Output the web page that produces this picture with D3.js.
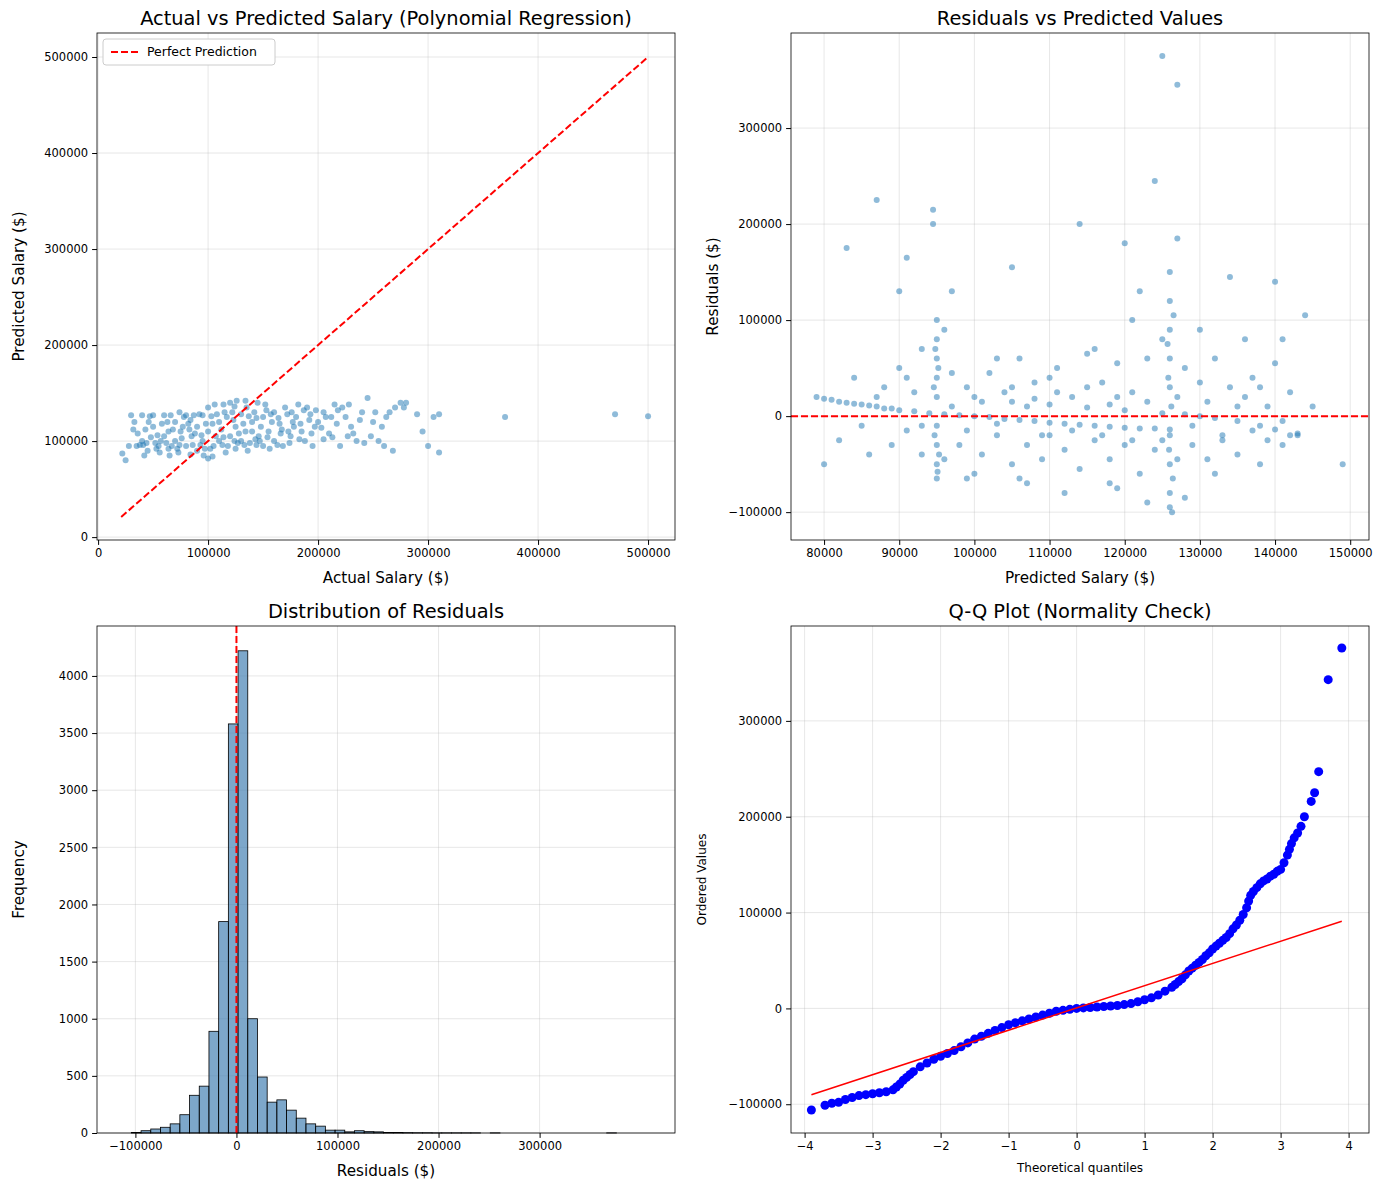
<!DOCTYPE html>
<html><head><meta charset="utf-8">
<script src="https://cdn.jsdelivr.net/npm/d3@7"></script>
<style>body{margin:0;background:#fff}text{font-family:"DejaVu Sans",sans-serif}</style>
</head><body><svg id="fig" width="1387" height="1190"></svg>
<script>
// actual vs predicted, thousands of $
var avp = [[22,87],[25,80],[30,127],[35,95],[40,100],[40,127],[45,90],[50,115],[50,127],[55,95],[60,105],[60,127],[65,85],[70,100],[70,120],[75,110],[80,95],[80,127],[85,105],[90,90],[90,115],[95,100],[95,127],[100,82],[100,110],[100,135],[105,95],[110,120],[110,100],[115,130],[120,105],[120,140],[125,115],[125,92],[130,128],[130,100],[135,135],[140,110],[140,120],[145,140],[150,95],[150,125],[155,110],[160,130],[160,100],[165,118],[170,135],[175,105],[180,125],[185,110],[190,135],[195,95],[200,120],[205,130],[210,108],[215,138],[220,95],[225,125],[230,115],[235,100],[240,130],[245,145],[250,120],[255,100],[260,95],[265,130],[270,135],[280,140],[290,128],[300,95],[305,125],[310,128],[310,88],[370,125],[470,128],[500,126],
[62,98],[68,112],[72,92],[78,125],[82,118],[88,108],[92,128],[98,118],[102,92],[108,128],[112,112],[118,95],[122,130],[128,108],[132,118],[138,98],[142,130],[148,115],[152,138],[158,120],[168,95],[172,128],[178,115],[182,138],[188,100],[192,122],[198,132],[205,102],[212,125],[218,132],[228,138],[238,122],[248,105],[258,115],[275,140],[36,108],[46,120],[56,88],[66,127],[76,103],[86,96],[96,85],[106,138],[116,88],[126,142],[136,90],[146,105],[156,92],[166,108],[176,130],
[32,112],[38,96],[42,85],[48,104],[52,98],[58,118],[64,92],[74,96],[84,122],[94,106],[104,118],[114,104],[124,100],[134,110],[144,96],[154,104],[164,124],[174,98],[184,118],[194,108],[104,84],[114,138],[124,136],[134,142],[144,124],[84,86],[74,130],[64,110],[54,106],[44,98],[28,95],[33,120],[43,112],[53,92],[63,120],[73,88],[83,112],[93,96],[103,126],[113,96],[123,122],[133,96],[143,102],[153,132],[163,96],[173,110],[183,102],[193,128],[203,114],[213,104],[222,135],[232,108],[242,98],[252,130],[262,125],[268,90],[278,135],[295,110],
[41,96],[47,126],[57,100],[67,95],[77,115],[87,127],[97,92],[107,105],[117,125],[127,98],[137,126],[147,100],[157,128],[167,112],[177,120],[187,132],[197,115],[207,125],[217,118],[227,105]];
// residuals vs predicted, thousands of $
var rvp = [[79,20],[80,18],[81,17],[82,15],[83,14],[84,13],[85,12],[86,11],[87,10],[88,8],[89,8],[90,6],[92,5],[94,3],[96,2],[98,1],[100,0],[102,-1],[104,-3],[106,-4],[108,-5],[110,-7],[112,-8],[114,-9],[116,-10],[118,-11],[120,-12],[122,-13],[124,-13],[126,-14],[105,15],[110,12],[115,9],[120,6],[125,3],[130,0],[135,-5],[138,-10],[140,-14],[143,-18],[100,20],[108,18],[118,12],[128,2],[132,-2],
[95,100],[95,80],[95,60],[95,40],[95,20],[95,-10],[95,-30],[95,-50],[95,-65],[94.5,200],[94.5,215],[94.6,30],[94.7,-20],[95.2,50],[95.3,-40],[94.8,70],[95.1,-58],
[126,150],[126,120],[126,90],[126,60],[126,30],[126,-20],[126,-50],[126,-80],[126,-95],[126.3,-100],[125.8,40],[126.2,10],[125.9,-35],[126.4,-65],[125.7,75],[126.5,105],
[80,-50],[83,175],[87,225],[90,130],[91,165],[93,-40],[97,130],[100,-60],[103,60],[105,155],[107,-70],[110,40],[112,-80],[114,200],[118,-70],[120,180],[121,100],[123,-90],[124,245],[125,375],[127,345],[127,185],[130,90],[132,-60],[134,145],[136,80],[138,-50],[140,140],[141,80],[144,105],[149,-50],
[82,-25],[84,40],[86,-40],[88,30],[89,-30],[90,50],[91,-15],[92,25],[93,70],[96,-45],[97,45],[98,-30],[99,30],[101,-40],[102,45],[103,-20],[104,25],[105,-50],[106,60],[107,-30],[108,35],[109,-45],[110,-20],[111,50],[112,-35],[113,20],[114,-55],[115,65],[116,-25],[117,35],[118,-45],[119,55],[120,-30],[121,25],[122,-60],[123,60],[124,-35],[125,80],[127,-45],[128,50],[129,-30],[130,35],[131,-45],[132,60],[133,-20],[134,30],[135,-40],[136,20],[137,40],[138,30],[139,-25],[140,55],[141,-30],[142,25],[143,-20],[145,10],[96,90],[99,-65],[106,-65],[116,70],[119,-75],[128,-85],[122,130],
[85,-10],[87,20],[91,40],[93,-10],[97,10],[99,-15],[101,15],[103,-8],[105,30],[107,10],[109,-20],[111,25],[113,-15],[115,30],[117,-20],[119,20],[121,-25],[123,15],[125,-25],[127,20],[129,-10],[131,15],[133,-25],[135,10],[137,-15],[139,10],[141,-5],[142,-20]];
// histogram of residuals
var binStart = -104000, binWidth = 9600;
var binCounts = [5,20,35,50,80,160,330,410,890,1850,3580,4220,1000,490,270,290,200,130,80,60,25,25,10,20,12,10,5,4,3,2,2,1,1,1,1,1,0,1,0,0,0,0,0,0,0,0,0,0,0,1];
// Q-Q: theoretical quantile, ordered value (thousands)
var qq = [[-3.9,-106],[-3.7,-101],[-3.6,-99],[-3.5,-98],[-3.4,-95],[-3.3,-93],[-3.2,-91],[-3.1,-90],[-3.0,-89],[-2.9,-88],[-2.8,-87],[-2.7,-85],[-2.65,-82],[-2.6,-79],[-2.55,-75],[-2.5,-72],[-2.45,-69],[-2.4,-66],[-2.3,-61],[-2.2,-57],[-2.1,-53],[-2.0,-50],[-1.9,-47],[-1.8,-44],[-1.7,-40],[-1.6,-36],[-1.5,-32],[-1.4,-29],[-1.3,-26],[-1.2,-23],[-1.1,-20],[-1.0,-17],[-0.9,-15],[-0.8,-13],[-0.7,-11],[-0.6,-9],[-0.5,-7],[-0.4,-5],[-0.3,-3],[-0.2,-2],[-0.1,-1],[0,0],[0.1,0.5],[0.2,1],[0.3,1.5],[0.4,2],[0.5,2.5],[0.6,3],[0.7,4],[0.8,5],[0.9,7],[1.0,9],[1.1,11],[1.2,14],[1.3,18],[1.4,22],[1.45,25],[1.5,28],[1.55,31],[1.6,35],[1.65,39],[1.7,42],[1.75,45],[1.8,48],[1.85,51],[1.9,55],[1.95,58],[2.0,62],[2.05,65],[2.1,68],[2.15,71],[2.2,74],[2.25,78],[2.3,83],[2.35,87],[2.4,92],[2.45,98],[2.5,105],[2.53,112],[2.56,118],[2.6,122],[2.65,126],[2.7,130],[2.75,133],[2.8,135],[2.85,138],[2.9,140],[2.95,143],[3.0,145],[3.05,152],[3.1,160],[3.13,166],[3.16,172],[3.2,178],[3.25,183],[3.3,190],[3.35,200],[3.45,216],[3.5,225],[3.56,247],[3.7,343],[3.9,376]];
var qqLine = [[-3.9,-90],[3.9,91]];

var svg = d3.select("#fig");
var blue = "#1f77b4";
var fmt = d => d3.format("d")(d).replace("−", "\u2212");

function panel(x0, y0, w, h, xd, yd, xt, yt, title, xl, yl, small) {
  var g = svg.append("g").attr("transform", "translate(" + x0 + "," + y0 + ")");
  var x = d3.scaleLinear().domain(xd).range([0, w]);
  var y = d3.scaleLinear().domain(yd).range([h, 0]);
  g.append("g").selectAll("line").data(xt).join("line")
    .attr("x1", d => x(d)).attr("x2", d => x(d)).attr("y1", 0).attr("y2", h)
    .attr("stroke", "#b0b0b0").attr("stroke-opacity", 0.3);
  g.append("g").selectAll("line").data(yt).join("line")
    .attr("y1", d => y(d)).attr("y2", d => y(d)).attr("x1", 0).attr("x2", w)
    .attr("stroke", "#b0b0b0").attr("stroke-opacity", 0.3);
  var ax = g.append("g").attr("transform", "translate(0," + h + ")")
    .call(d3.axisBottom(x).tickValues(xt).tickFormat(fmt).tickSize(4.9).tickPadding(4));
  var ay = g.append("g").call(d3.axisLeft(y).tickValues(yt).tickFormat(fmt).tickSize(4.9).tickPadding(4));
  [ax, ay].forEach(a => { a.select(".domain").remove(); a.selectAll("text").attr("font-size", 11.5).attr("fill", "#000"); });
  g.append("text").attr("x", w / 2).attr("y", -8).attr("text-anchor", "middle").attr("font-size", 19.4).text(title);
  g.append("text").attr("x", w / 2).attr("y", h + (small ? 39 : 43)).attr("text-anchor", "middle").attr("font-size", small ? 12 : 15.2).text(xl);
  g.append("text").attr("transform", "translate(" + (small ? -85 : -73) + "," + h / 2 + ") rotate(-90)")
    .attr("text-anchor", "middle").attr("font-size", small ? 12 : 15.2).text(yl);
  var plot = g.append("g");
  g.append("rect").attr("width", w).attr("height", h).attr("fill", "none").attr("stroke", "#000").attr("stroke-width", 0.8);
  return {g: plot, x: x, y: y};
}

var W = 578, H = 507;
// panel 1
var p1 = panel(97, 33, W, H, [-1000, 524500], [-3000, 525000],
  [0, 100000, 200000, 300000, 400000, 500000], [0, 100000, 200000, 300000, 400000, 500000],
  "Actual vs Predicted Salary (Polynomial Regression)", "Actual Salary ($)", "Predicted Salary ($)");
p1.g.selectAll("circle").data(avp).join("circle")
  .attr("cx", d => p1.x(d[0] * 1000)).attr("cy", d => p1.y(d[1] * 1000)).attr("r", 3)
  .attr("fill", blue).attr("fill-opacity", 0.5);
p1.g.append("line").attr("x1", p1.x(21000)).attr("y1", p1.y(21000)).attr("x2", p1.x(500000)).attr("y2", p1.y(500000))
  .attr("stroke", "red").attr("stroke-width", 2).attr("stroke-dasharray", "7,3");
var lg = p1.g.append("g").attr("transform", "translate(6,6)");
lg.append("rect").attr("width", 172).attr("height", 26).attr("rx", 3).attr("fill", "#fff").attr("stroke", "#ccc");
lg.append("line").attr("x1", 8).attr("x2", 36).attr("y1", 13).attr("y2", 13).attr("stroke", "red").attr("stroke-width", 2).attr("stroke-dasharray", "7,3");
lg.append("text").attr("x", 44).attr("y", 17).attr("font-size", 12.5).text("Perfect Prediction");

// panel 2
var p2 = panel(791, 33, W, H, [75600, 152500], [-129000, 399000],
  [80000, 90000, 100000, 110000, 120000, 130000, 140000, 150000], [-100000, 0, 100000, 200000, 300000],
  "Residuals vs Predicted Values", "Predicted Salary ($)", "Residuals ($)");
p2.g.selectAll("circle").data(rvp).join("circle")
  .attr("cx", d => p2.x(d[0] * 1000)).attr("cy", d => p2.y(d[1] * 1000)).attr("r", 3)
  .attr("fill", blue).attr("fill-opacity", 0.5);
p2.g.append("line").attr("x1", 0).attr("x2", W).attr("y1", p2.y(0)).attr("y2", p2.y(0))
  .attr("stroke", "red").attr("stroke-width", 2).attr("stroke-dasharray", "7,3");

// panel 3
var p3 = panel(97, 626, W, H, [-138000, 434000], [0, 4437],
  [-100000, 0, 100000, 200000, 300000], [0, 500, 1000, 1500, 2000, 2500, 3000, 3500, 4000],
  "Distribution of Residuals", "Residuals ($)", "Frequency");
p3.g.selectAll("rect").data(binCounts).join("rect")
  .attr("x", (d, i) => p3.x(binStart + i * binWidth)).attr("width", p3.x(binWidth) - p3.x(0))
  .attr("y", d => p3.y(d)).attr("height", d => p3.y(0) - p3.y(d))
  .attr("fill", "steelblue").attr("fill-opacity", 0.7).attr("stroke", "#000").attr("stroke-width", 0.8);
p3.g.append("line").attr("x1", p3.x(0)).attr("x2", p3.x(0)).attr("y1", 0).attr("y2", H)
  .attr("stroke", "red").attr("stroke-width", 2).attr("stroke-dasharray", "7,3");

// panel 4
var p4 = panel(791, 626, W, H, [-4.2, 4.3], [-130000, 399000],
  [-4, -3, -2, -1, 0, 1, 2, 3, 4], [-100000, 0, 100000, 200000, 300000],
  "Q-Q Plot (Normality Check)", "Theoretical quantiles", "Ordered Values", true);
p4.g.selectAll("circle").data(qq).join("circle")
  .attr("cx", d => p4.x(d[0])).attr("cy", d => p4.y(d[1] * 1000)).attr("r", 4.5).attr("fill", "#0000ff");
p4.g.append("line").attr("x1", p4.x(qqLine[0][0])).attr("y1", p4.y(qqLine[0][1] * 1000))
  .attr("x2", p4.x(qqLine[1][0])).attr("y2", p4.y(qqLine[1][1] * 1000)).attr("stroke", "red").attr("stroke-width", 1.5);
</script></body></html>
